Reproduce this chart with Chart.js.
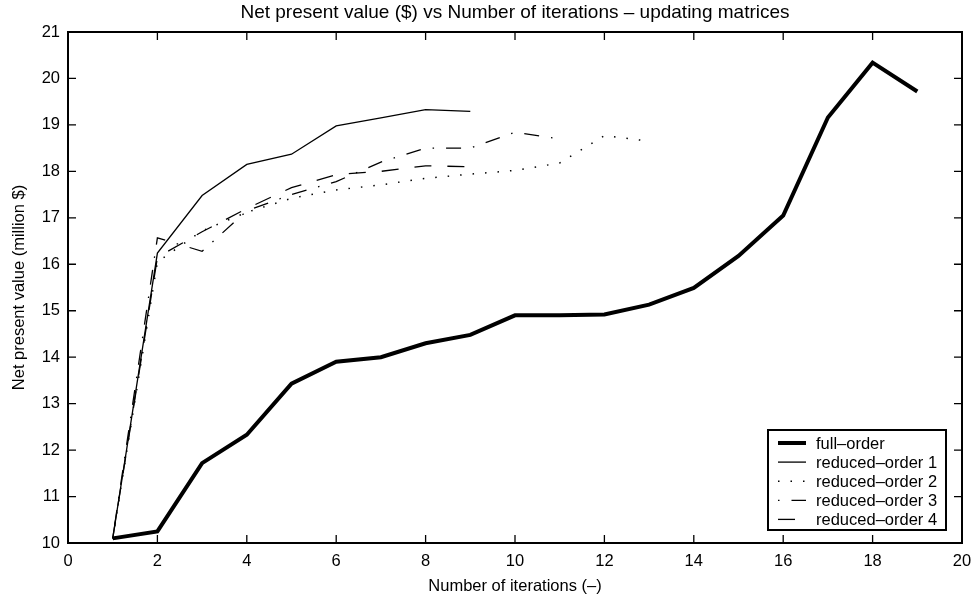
<!DOCTYPE html>
<html>
<head>
<meta charset="utf-8">
<script src="https://cdn.jsdelivr.net/npm/chart.js@4"></script>
<style>
  html, body { margin: 0; padding: 0; background: #fff; }
</style>
</head>
<body>
<canvas id="npv" width="971" height="602"></canvas>
<script>
// data
const iterations = [1, 2, 3, 4, 5, 6, 7, 8, 9, 10, 11, 12, 13, 14, 15, 16, 17, 18, 19];
const fullOrder = [10.1, 10.25, 11.72, 12.33, 13.43, 13.9, 14.0, 14.3, 14.48, 14.9, 14.9, 14.92, 15.13, 15.49, 16.18, 17.05, 19.16, 20.34, 19.72];
const reduced1 = [10.1, 16.24, 17.48, 18.15, 18.37, 18.98, 19.15, 19.33, 19.29];
const reduced2 = [10.1, 16.05, 16.72, 17.12, 17.42, 17.6, 17.71, 17.85, 17.94, 18.02, 18.18, 18.77, 18.65];
const reduced3 = [10.1, 16.57, 16.28, 17.15, 17.5, 17.78, 18.2, 18.5, 18.5, 18.84, 18.7];
const reduced4 = [10.1, 16.15, 16.7, 17.2, 17.65, 17.93, 18.0, 18.12, 18.1];

const seriesNames = ['full–order', 'reduced–order 1', 'reduced–order 2', 'reduced–order 3', 'reduced–order 4'];
const xTicks = [0, 2, 4, 6, 8, 10, 12, 14, 16, 18, 20];
const yTicks = [10, 11, 12, 13, 14, 15, 16, 17, 18, 19, 20, 21];

const FONT = '"Liberation Sans", Arial, Helvetica, sans-serif';
const FS = 16.5;

function toPoints(values) {
    return values.map((v, i) => ({ x: iterations[i], y: v }));
}

function makeSet(label, values, width, dash) {
    return {
        label: label,
        data: toPoints(values),
        borderColor: '#000',
        borderWidth: width,
        borderDash: dash,
        pointRadius: 0,
        tension: 0,
        fill: false
    };
}

// box, inward ticks, title and legend drawn like the matlab figure
const framePlugin = {
    id: 'frame',
    afterDatasetsDraw(chart) {
        const ctx = chart.ctx;
        const a = chart.chartArea;
        const sx = chart.scales.x, sy = chart.scales.y;
        ctx.save();
        ctx.strokeStyle = '#000';
        ctx.lineWidth = 1.3;
        ctx.beginPath();
        xTicks.forEach(v => {
            const px = sx.getPixelForValue(v);
            ctx.moveTo(px, a.bottom); ctx.lineTo(px, a.bottom - 8);
            ctx.moveTo(px, a.top); ctx.lineTo(px, a.top + 8);
        });
        yTicks.forEach(v => {
            const py = sy.getPixelForValue(v);
            ctx.moveTo(a.left, py); ctx.lineTo(a.left + 8, py);
            ctx.moveTo(a.right, py); ctx.lineTo(a.right - 8, py);
        });
        ctx.stroke();
        ctx.lineWidth = 2;
        ctx.strokeRect(a.left, a.top, a.right - a.left, a.bottom - a.top);

        // title centred over the plot
        ctx.fillStyle = '#000';
        ctx.font = '19px ' + FONT;
        ctx.textAlign = 'center';
        ctx.textBaseline = 'middle';
        ctx.fillText('Net present value ($) vs Number of iterations – updating matrices', (a.left + a.right) / 2, 13);

        // legend
        const bw = 178, bh = 100;
        const bx = a.right - 16 - bw, by = a.bottom - 13 - bh;
        ctx.fillStyle = '#fff';
        ctx.fillRect(bx, by, bw, bh);
        ctx.lineWidth = 2;
        ctx.strokeRect(bx, by, bw, bh);
        ctx.textAlign = 'left';
        ctx.font = FS + 'px ' + FONT;
        chart.data.datasets.forEach((ds, i) => {
            const ly = by + 13 + i * 19.1;
            ctx.beginPath();
            ctx.lineWidth = ds.borderWidth;
            ctx.setLineDash(ds.borderDash || []);
            ctx.moveTo(bx + 10, ly);
            ctx.lineTo(bx + 38, ly);
            ctx.stroke();
            ctx.setLineDash([]);
            ctx.fillStyle = '#000';
            ctx.fillText(ds.label, bx + 48, ly + 1);
        });
        ctx.restore();
    }
};

const ctx = document.getElementById('npv').getContext('2d');
new Chart(ctx, {
    type: 'line',
    data: {
        datasets: [
            makeSet(seriesNames[0], fullOrder, 4, []),
            makeSet(seriesNames[1], reduced1, 1.3, []),
            makeSet(seriesNames[2], reduced2, 1.5, [1.5, 11]),
            makeSet(seriesNames[3], reduced3, 1.3, [1.5, 12, 15, 12]),
            makeSet(seriesNames[4], reduced4, 1.3, [17, 16])
        ]
    },
    options: {
        responsive: false,
        animation: false,
        layout: { padding: { top: 32, right: 9, left: 0, bottom: 0 } },
        plugins: {
            legend: { display: false },
            title: { display: false },
            tooltip: { enabled: false }
        },
        scales: {
            x: {
                type: 'linear',
                min: 0,
                max: 20,
                afterFit: s => { s.height = 59; s.paddingLeft = 0; s.paddingRight = 0; },
                afterBuildTicks: s => { s.ticks = xTicks.map(v => ({ value: v })); },
                grid: { display: false, drawTicks: false },
                border: { display: false },
                ticks: { color: '#000', padding: 9, font: { family: FONT, size: FS }, maxRotation: 0 },
                title: {
                    display: true,
                    text: 'Number of iterations (–)',
                    color: '#000',
                    font: { family: FONT, size: FS },
                    padding: { top: 0, bottom: 6 }
                }
            },
            y: {
                min: 10,
                max: 21,
                afterFit: s => { s.width = 68; },
                afterBuildTicks: s => { s.ticks = yTicks.map(v => ({ value: v })); },
                grid: { display: false, drawTicks: false },
                border: { display: false },
                ticks: { color: '#000', padding: 8, font: { family: FONT, size: FS } },
                title: {
                    display: true,
                    text: 'Net present value (million $)',
                    color: '#000',
                    font: { family: FONT, size: FS },
                    padding: { top: 10, bottom: 0 }
                }
            }
        }
    },
    plugins: [framePlugin]
});
</script>
</body>
</html>
